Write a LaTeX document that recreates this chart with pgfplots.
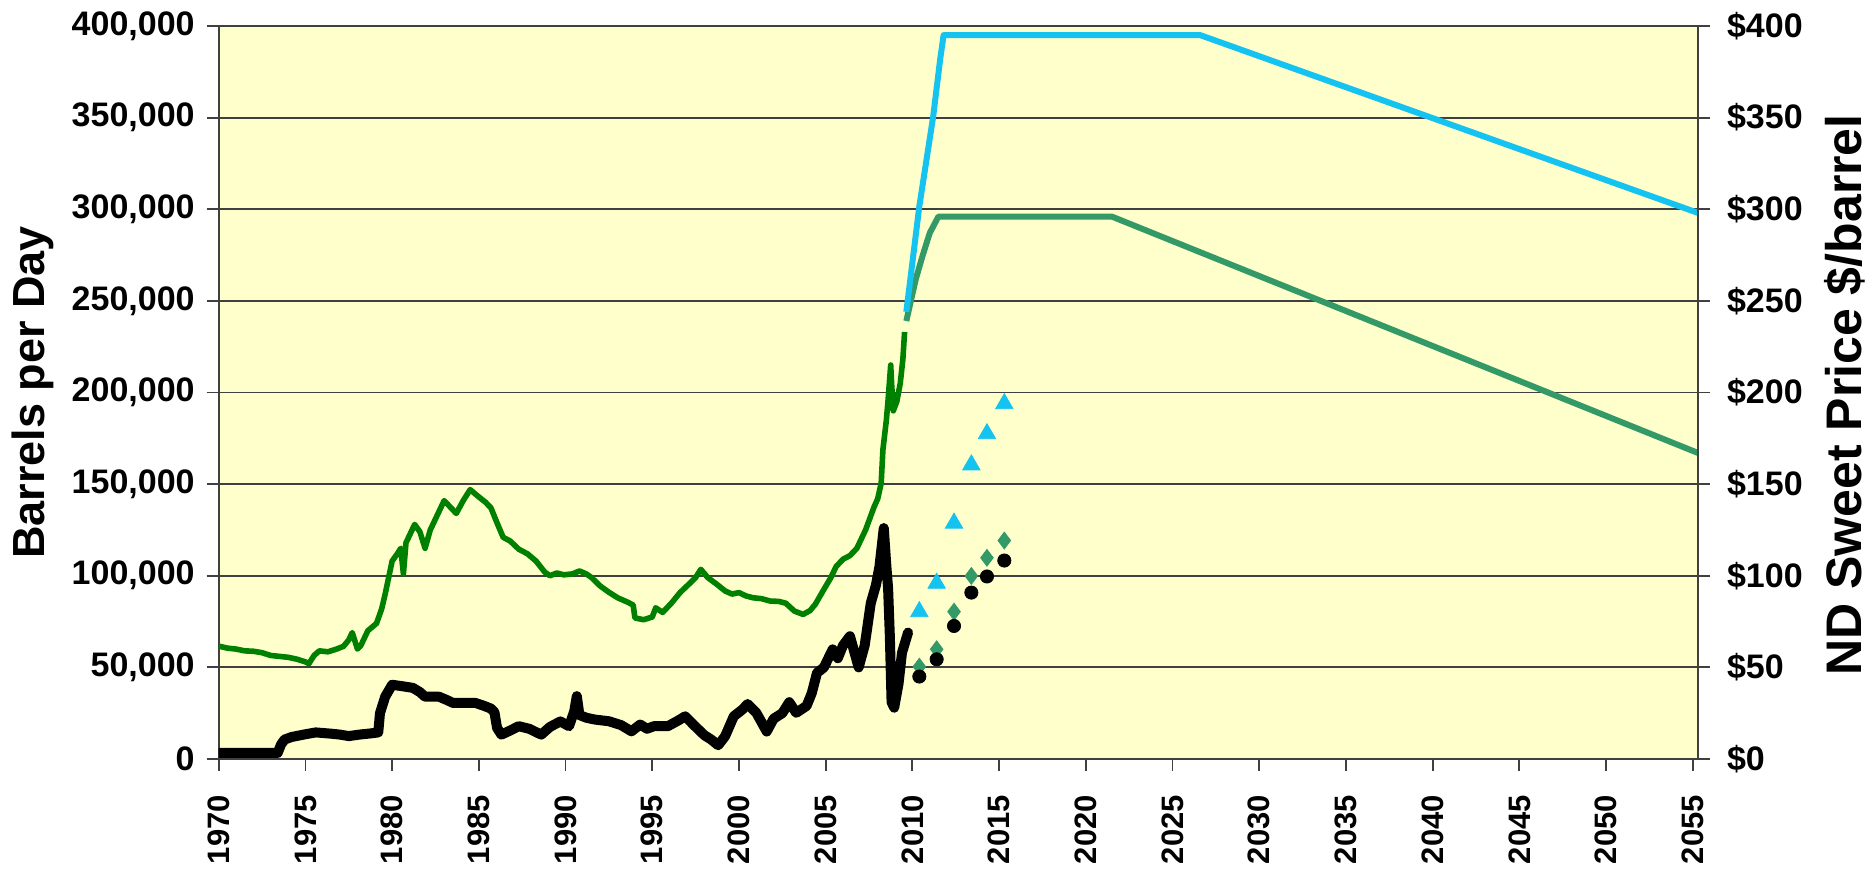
\documentclass[border=0pt]{standalone}
\usepackage{fontspec}
\setmainfont{Liberation Sans}
\usepackage{pgfplots}
\pgfplotsset{compat=1.18}
\definecolor{bgyellow}{HTML}{FFFFCC}
\definecolor{prodgreen}{HTML}{008000}
\definecolor{fcgreen}{HTML}{339966}
\definecolor{fccyan}{HTML}{14C3F0}
\definecolor{gridgray}{HTML}{404040}

\pgfplotstableread{
year bpd
1970.0 61600
1970.5 60500
1971.0 60000
1971.5 59000
1972.0 58800
1972.5 58000
1973.0 56500
1973.5 56000
1974.0 55500
1974.5 54500
1975.0 53000
1975.2 52000
1975.5 56500
1975.8 59000
1976.3 58500
1976.8 60000
1977.2 61500
1977.5 65000
1977.7 69000
1978.0 60000
1978.2 62000
1978.6 70000
1979.1 74000
1979.4 82000
1979.6 90000
1980.0 108000
1980.3 112000
1980.5 115000
1980.65 101000
1980.8 118000
1981.0 122000
1981.3 128000
1981.6 124000
1981.9 115000
1982.2 125000
1982.6 133000
1983.0 141000
1983.3 138000
1983.7 134000
1984.1 141000
1984.5 147000
1985.0 143000
1985.4 140000
1985.7 137000
1986.0 130000
1986.4 121000
1986.8 119000
1987.3 114500
1987.8 112000
1988.3 108000
1988.8 102000
1989.1 100000
1989.5 101500
1989.9 100500
1990.4 101000
1990.8 102600
1991.2 101000
1991.5 99000
1992.0 94400
1992.5 91000
1993.0 88000
1993.6 85500
1993.9 84000
1994.0 77000
1994.5 76000
1995.0 77500
1995.2 82500
1995.6 80000
1996.1 85000
1996.6 90800
1997.1 95300
1997.5 99000
1997.8 103500
1998.2 99000
1998.7 95500
1999.2 91700
1999.6 90000
2000.0 90800
2000.4 89000
2000.8 88000
2001.3 87500
2001.8 86200
2002.3 86000
2002.7 85000
2003.2 80700
2003.7 78900
2004.1 81000
2004.4 84400
2004.9 92600
2005.3 99000
2005.6 105000
2006.0 109000
2006.4 111000
2006.8 115000
2007.3 125000
2007.8 137800
2008.0 142000
2008.2 150500
2008.3 168700
2008.5 185000
2008.6 196000
2008.75 215000
2008.8 205000
2008.9 190000
2009.1 195000
2009.3 205000
2009.45 218000
2009.55 233000
}\production

\pgfplotstableread{
year bpd
2009.65 239000
2010.2 262000
2010.6 275000
2011.0 287000
2011.5 296000
2021.5 296000
2055.3 167000
}\fclow

\pgfplotstableread{
year bpd
2009.65 244000
2010.4 301600
2011.2 350700
2011.6 381700
2011.8 395000
2026.6 395000
2055.3 298000
}\fchigh

\pgfplotstableread{
year price
1970.0 3.3
1973.4 3.3
1973.6 8
1973.8 10.6
1974.2 12
1975.0 13.5
1975.6 14.5
1976.5 13.8
1977.0 13.3
1977.5 12.5
1978.1 13.3
1978.8 14
1979.2 14.5
1979.3 25
1979.6 34
1980.0 40.5
1980.6 39.7
1981.2 38.8
1981.6 36.5
1981.9 34
1982.7 34
1983.2 32
1983.5 30.6
1984.8 30.6
1985.3 29
1985.7 27.5
1985.9 25.5
1986.05 17
1986.3 13.3
1986.8 15.5
1987.3 17.9
1987.9 16.5
1988.6 13.3
1989.1 17.5
1989.7 20.5
1990.2 17.9
1990.5 26
1990.65 34.3
1990.8 24
1991.2 22.5
1991.7 21.5
1992.5 20.6
1993.2 18.5
1993.8 15.1
1994.3 18.8
1994.7 16.5
1995.1 17.9
1995.9 17.9
1996.5 21
1996.9 23.3
1997.4 18.5
1998.0 13
1998.4 10.6
1998.8 7.5
1999.2 12.4
1999.7 23.3
2000.2 27
2000.5 30
2001.0 25.2
2001.6 15
2002.0 22
2002.5 25
2002.9 31
2003.3 25.2
2003.9 29
2004.2 36
2004.5 47
2004.9 50
2005.4 59.8
2005.7 55
2006.0 62
2006.4 67
2006.9 50
2007.25 62
2007.6 85
2007.9 95
2008.1 105
2008.35 126
2008.5 105
2008.6 93
2008.7 67
2008.8 31
2008.95 28
2009.2 41
2009.4 58
2009.75 69
}\price

\pgfplotstableread{
year tri dia circ
2010.4 80.4 50.4 45.0
2011.4 95.9 59.9 54.4
2012.4 128.7 80.4 72.6
2013.4 160.5 99.9 90.8
2014.3 177.5 109.8 99.6
2015.3 193.9 119.2 108.3
}\scenarios

\begin{document}
\begin{tikzpicture}
\useasboundingbox (-109.35pt,-56.5pt) rectangle (827.65pt,379.5pt);
\begin{axis}[
  at={(0,0)}, anchor=south west,
  scale only axis, width=739.65pt, height=366.5pt,
  xmin=1970, xmax=2055.3, ymin=0, ymax=400000,
  axis background/.style={fill=bgyellow},
  xtick={1970,1975,...,2055},
  ytick={0,50000,...,400000},
  ymajorgrids,
  major grid style={gridgray, line width=0.9pt},
  tick align=outside, major tick length=6pt,
  every tick/.style={gridgray, line width=0.9pt},
  axis line style={gridgray, line width=1pt},
  axis x line*=bottom, axis y line*=left,
  scaled y ticks=false,
  /pgf/number format/assume math mode=true,
  yticklabel style={font=\fontsize{17}{19}\selectfont\bfseries, /pgf/number format/fixed, /pgf/number format/1000 sep={,}, xshift=-2.5pt},
  xticklabel style={font=\fontsize{15.5}{17}\selectfont\bfseries, rotate=90, anchor=east, xshift=-8.6pt, /pgf/number format/1000 sep={}},
  clip=true,
]
\addplot[prodgreen, line width=2.8pt, line join=round] table[x=year,y=bpd] {\production};
\addplot[fcgreen, line width=3pt, line join=round] table[x=year,y=bpd] {\fclow};
\addplot[fccyan, line width=3pt, line join=round] table[x=year,y=bpd] {\fchigh};
\end{axis}
\begin{axis}[
  at={(0,0)}, anchor=south west,
  scale only axis, width=739.65pt, height=366.5pt,
  xmin=1970, xmax=2055.3, ymin=0, ymax=400,
  axis x line=none, axis y line*=right,
  ytick={0,50,...,400},
  tick align=outside, major tick length=6pt,
  every tick/.style={gridgray, line width=0.9pt},
  axis line style={gridgray, line width=1pt},
  yticklabel style={font=\fontsize{17}{19}\selectfont\bfseries, xshift=5pt},
  /pgf/number format/assume math mode=true,
  yticklabel={\$\pgfmathprintnumber{\tick}},
]
\addplot[black, line width=5pt, line join=round, line cap=round] table[x=year,y=price] {\price};
\addplot[only marks, mark=triangle*, mark size=5pt, fccyan] table[x=year,y=tri] {\scenarios};
\addplot[only marks, mark=diamond*, mark size=4.2pt, fcgreen] table[x=year,y=dia] {\scenarios};
\addplot[only marks, mark=*, mark size=3.3pt, black] table[x=year,y=circ] {\scenarios};
\end{axis}
\node[rotate=90, font=\fontsize{22.5}{24}\selectfont\bfseries] at (-92.8pt,183.25pt) {Barrels per Day};
\node[rotate=90, font=\fontsize{25}{28}\selectfont\bfseries] at (813pt,182pt) {ND Sweet Price \$/barrel};
\end{tikzpicture}
\end{document}
